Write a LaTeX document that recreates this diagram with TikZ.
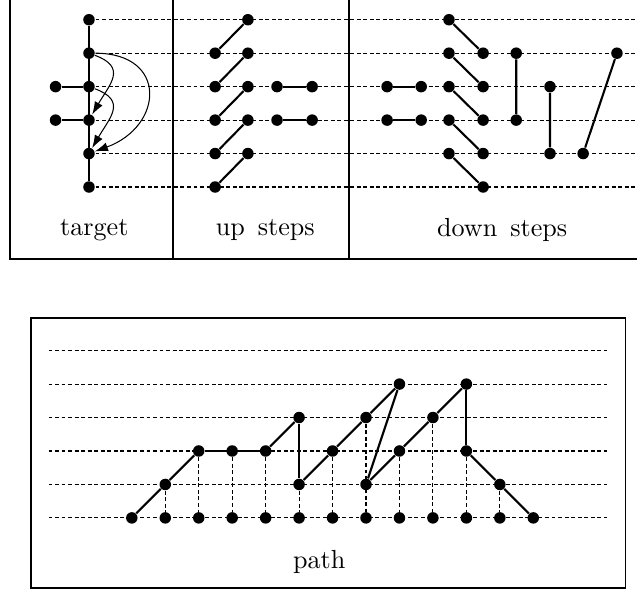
\documentclass[tikz,border=0pt]{standalone}
\usetikzlibrary{arrows.meta}
\begin{document}
\begin{tikzpicture}[x=0.45cm,y=0.45cm,
  dot/.style={circle,fill,inner sep=0pt,minimum size=4.4pt},
  lvl/.style={dash pattern=on 1.5pt off 1pt,line width=0.4pt},
  edge/.style={line width=0.8pt},
  jump/.style={-{Latex[length=5pt,width=3.4pt]},line width=0.4pt},
  frame/.style={line width=0.6pt}]
\useasboundingbox (-2.66,-12.14) rectangle (16.38,5.59);
% top panel
\draw[frame] (-2.36,5.59) -- (-2.36,-2.15) -- (16.38,-2.15);
\draw[frame] (2.51,5.59) -- (2.51,-2.15) (7.77,5.59) -- (7.77,-2.15);
\foreach \y in {0,...,5} \draw[lvl] (0,\y) -- (16.38,\y);
\foreach \y in {0,...,5} \node[dot] (t\y) at (0,\y) {};
\node[dot] (tl2) at (-1,2) {};
\node[dot] (tl3) at (-1,3) {};
\draw[edge] (t0) -- (t5);
\draw[edge] (tl2) -- (t2) (tl3) -- (t3);
\draw[jump] (t4) to[out=-20,in=60,looseness=1.5] (t2);
\draw[jump] (t3) to[out=-20,in=60,looseness=1.5] (t1);
\draw[jump] (t4) to[out=0,in=20,looseness=1.9] (t1);
\foreach \y in {0,...,4} {
  \node[dot] (ua\y) at (3.77,\y) {};
  \node[dot] (ub\y) at (4.75,\y+1) {};
  \draw[edge] (ua\y) -- (ub\y);
}
\foreach \y in {2,3} {
  \node[dot] (uc\y) at (5.62,\y) {};
  \node[dot] (ud\y) at (6.67,\y) {};
  \draw[edge] (uc\y) -- (ud\y);
  \node[dot] (da\y) at (8.91,\y) {};
  \node[dot] (db\y) at (9.93,\y) {};
  \draw[edge] (da\y) -- (db\y);
}
\foreach \y in {0,...,4} {
  \node[dot] (dc\y) at (10.76,\y+1) {};
  \node[dot] (dd\y) at (11.78,\y) {};
  \draw[edge] (dc\y) -- (dd\y);
}
\node[dot] (de4) at (12.77,4) {};
\node[dot] (de2) at (12.77,2) {};
\node[dot] (df3) at (13.78,3) {};
\node[dot] (df1) at (13.78,1) {};
\node[dot] (dg1) at (14.77,1) {};
\node[dot] (dg4) at (15.78,4) {};
\draw[edge] (de4) -- (de2) (df3) -- (df1) (dg1) -- (dg4);
\node (lt) at (0.16,-1.28) {target};
\node (lu) at (5.27,-1.28) {up~\,steps};
\node (ld) at (12.35,-1.28) {down~\,steps};
% bottom panel
\begin{scope}[shift={(1.28,-9.89)}]
\draw[frame] (-3.01,-2.10) rectangle (14.75,5.98);
\foreach \y in {0,...,5} \draw[lvl] (-2.49,\y) -- (14.2,\y);
\foreach \x/\y [count=\i from 0] in {0/0,1/1,2/2,3/2,4/2,5/3,5/1,6/2,7/3,8/4,7/1,8/2,9/3,10/4,10/2,11/1,12/0}
  \node[dot] (w\i) at (\x,\y) {};
\foreach \k in {1,...,11} \node[dot] (p\k) at (\k,0) {};
\foreach \k/\i in {1/1,2/2,3/3,4/4,5/6,6/7,7/8,8/11,9/12,10/14,11/15}
  \draw[lvl] (w\i) -- (p\k);
\foreach \i [evaluate=\i as \j using int(\i+1)] in {0,...,15}
  \draw[edge] (w\i) -- (w\j);
\node (lp) at (5.6,-1.32) {path};
\end{scope}
\end{tikzpicture}
\end{document}
